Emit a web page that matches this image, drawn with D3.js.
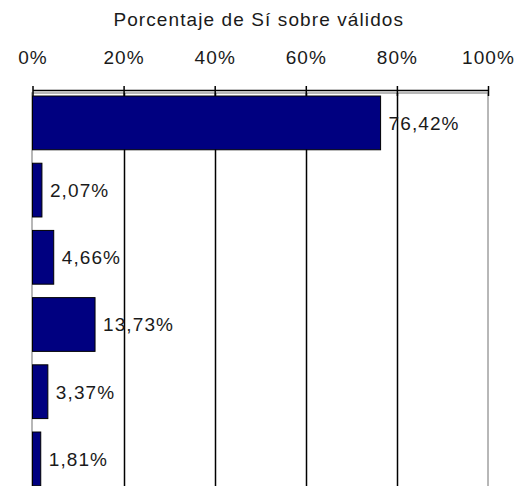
<!DOCTYPE html>
<html>
<head>
<meta charset="utf-8">
<script src="https://cdn.jsdelivr.net/npm/d3@7"></script>
<style>
    body { margin: 0; background: #fff; }
    text { font-family: "Liberation Sans", Arial, sans-serif; font-size: 19px; letter-spacing: 1.1px; fill: #1a1a1a; }
</style>
</head>
<body>
<div id="body"></div>
<script>
// data
var categories = ['c1', 'c2', 'c3', 'c4', 'c5', 'c6'];
var values = [76.42, 2.07, 4.66, 13.73, 3.37, 1.81];
var tickValues = [0, 20, 40, 60, 80, 100];
var title = 'Porcentaje de Sí sobre válidos';

var width = 522, height = 486;
var left = 32.5, right = 488, axisY = 90, plotTop = 93;

var svg = d3.select('#body')
    .append('svg')
    .attr('width', width)
    .attr('height', height);

var x = d3.scaleLinear().domain([0, 100]).range([left, right]);
var y = d3.scaleBand().domain(categories).range([89.3, 492.5]).paddingInner(0.2).paddingOuter(0.1);

// plot area border (gray)
svg.append('rect')
    .attr('x', left - 0.5)
    .attr('y', plotTop)
    .attr('width', right - left + 0.5)
    .attr('height', height)
    .attr('fill', 'none')
    .attr('stroke', '#a0a0a0')
    .attr('stroke-width', 1.5);

// gridlines
svg.append('g')
    .selectAll('line')
    .data(tickValues.slice(1, -1))
    .enter()
    .append('line')
    .attr('x1', d => Math.round(x(d)) + 0.5)
    .attr('x2', d => Math.round(x(d)) + 0.5)
    .attr('y1', plotTop)
    .attr('y2', height)
    .attr('stroke', '#000')
    .attr('stroke-width', 1.5);

// bars
svg.append('g')
    .selectAll('rect.bar')
    .data(values)
    .enter()
    .append('rect')
    .attr('class', 'bar')
    .attr('x', x(0))
    .attr('y', (d, i) => y(categories[i]))
    .attr('width', d => x(d) - x(0))
    .attr('height', y.bandwidth())
    .attr('fill', '#000080')
    .attr('stroke', '#000')
    .attr('stroke-width', 1);

// value labels
svg.append('g')
    .selectAll('text')
    .data(values)
    .enter()
    .append('text')
    .attr('x', d => x(d) + 8)
    .attr('y', (d, i) => y(categories[i]) + y.bandwidth() / 2)
    .attr('dy', '0.36em')
    .text(d => d.toFixed(2).replace('.', ',') + '%');

// top axis
var xAxis = d3.axisTop(x)
    .tickValues(tickValues)
    .tickSize(0)
    .tickPadding(26)
    .tickFormat(d => d + '%');

var axis = svg.append('g')
    .attr('transform', `translate(0,${axisY})`)
    .call(xAxis);
axis.select('.domain').attr('stroke', '#000').attr('stroke-width', 1.5);
axis.selectAll('.tick text').attr('font-family', null).attr('font-size', null).attr('fill', null);
axis.selectAll('.tick')
    .append('line')
    .attr('y1', -4)
    .attr('y2', 6)
    .attr('stroke', '#000')
    .attr('stroke-width', 1.5);

svg.append('text')
    .attr('x', (left + right) / 2 - 1.5)
    .attr('y', 26)
    .attr('text-anchor', 'middle')
    .text(title);
</script>
</body>
</html>
